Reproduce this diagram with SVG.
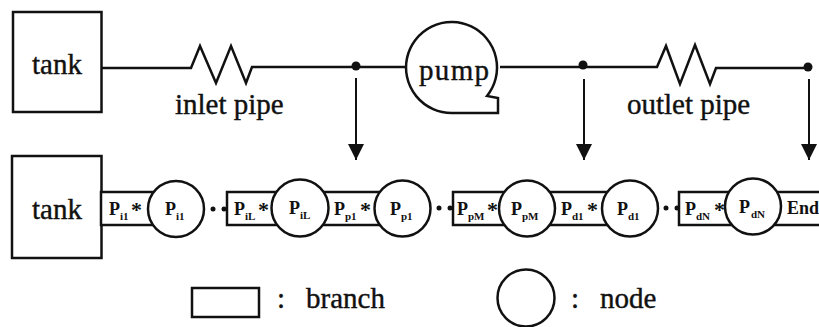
<svg xmlns="http://www.w3.org/2000/svg" width="819" height="327" viewBox="0 0 819 327">
<style>
text{font-family:"Liberation Serif","Times New Roman",serif;fill:#111}
.l{font-size:29px;stroke:#111;stroke-width:.4}
.b{font-size:18px;font-weight:bold}
.s{font-size:11px;font-weight:bold}
.r{font-size:22px;font-weight:bold}
.o{fill:#fff;stroke:#111;stroke-width:2.5}
.w{fill:none;stroke:#111;stroke-width:2.5}
.t{stroke:#111;stroke-width:2;fill:none}
</style>
<defs>
<marker id="a" markerUnits="userSpaceOnUse" markerWidth="16" markerHeight="16" refX="16" refY="8" orient="auto" viewBox="0 0 16 16"><path d="M0 0L16 8L0 16Z" fill="#111"/></marker>
</defs>
<rect width="819" height="327" fill="#fff"/>
<g id="connectors">
<path class="w" d="M101 68H191L200 46L216 83L231 46L246 83L252 67H408"/>
<path class="w" d="M500 67H657L666 46L680 84L695 45L710 84L716 68H808"/>
<g fill="#111"><circle cx="356" cy="66" r="4.500"/><circle cx="583" cy="65" r="4.500"/><circle cx="808" cy="67" r="4.500"/>
<circle cx="213" cy="209" r="2.500"/><circle cx="224" cy="209" r="2.500"/><circle cx="439" cy="208" r="2.500"/><circle cx="450" cy="208" r="2.500"/><circle cx="666" cy="208" r="2.500"/><circle cx="677" cy="208" r="2.500"/></g>
<path class="t" d="M356 78V160" marker-end="url(#a)"/>
<path class="t" d="M584 79V160" marker-end="url(#a)"/>
<path class="t" d="M809 79V160" marker-end="url(#a)"/>
</g>
<g id="tank-top"><rect class="o" x="13" y="12" width="88.500" height="100"/><text class="l" x="32" y="74">tank</text></g>
<g id="inlet-pipe"><text class="l" x="175" y="114">inlet pipe</text></g>
<g id="outlet-pipe"><text class="l" x="627" y="114">outlet pipe</text></g>
<g id="pump"><path class="o" d="M452 113A45.500 45.500 0 1 1 487 96L498 98V113Z"/><text class="l" x="419" y="80" textLength="70">pump</text></g>
<g id="tank-bottom"><rect class="o" x="12" y="156" width="89.500" height="102"/><text class="l" x="32" y="219">tank</text></g>
<g id="branch-i1"><rect class="o" x="101" y="192" width="60" height="33"/><text class="b" x="109" y="215">P</text><text class="s" x="120" y="220">i1</text><text class="r" x="131" y="217">*</text></g>
<g id="branch-iL"><rect class="o" x="227" y="192" width="55" height="33"/><text class="b" x="234" y="215">P</text><text class="s" x="245" y="220">iL</text><text class="r" x="258" y="217">*</text></g>
<g id="branch-p1"><rect class="o" x="320" y="192" width="65" height="33"/><text class="b" x="334" y="215">P</text><text class="s" x="345" y="220">p1</text><text class="r" x="360" y="217">*</text></g>
<g id="branch-pM"><rect class="o" x="453" y="192" width="55" height="33"/><text class="b" x="457" y="215">P</text><text class="s" x="468" y="220">pM</text><text class="r" x="487" y="217">*</text></g>
<g id="branch-d1"><rect class="o" x="545" y="192" width="70" height="33"/><text class="b" x="561" y="215">P</text><text class="s" x="572" y="220">d1</text><text class="r" x="587" y="217">*</text></g>
<g id="branch-dN"><rect class="o" x="679" y="192" width="56" height="33"/><text class="b" x="685" y="215">P</text><text class="s" x="696" y="220">dN</text><text class="r" x="714" y="217">*</text></g>
<g id="branch-end"><rect class="o" x="775" y="192" width="47" height="33"/><text class="b" x="787" y="214">End</text></g>
<g id="node-i1"><circle class="o" cx="176" cy="209" r="28"/><text class="b" x="165" y="215">P</text><text class="s" x="176" y="220">i1</text></g>
<g id="node-iL"><circle class="o" cx="300" cy="208" r="28.500"/><text class="b" x="289" y="214">P</text><text class="s" x="300" y="219">iL</text></g>
<g id="node-p1"><circle class="o" cx="402.500" cy="208.500" r="28"/><text class="b" x="390" y="215">P</text><text class="s" x="401" y="220">p1</text></g>
<g id="node-pM"><circle class="o" cx="527" cy="208.500" r="28"/><text class="b" x="511" y="215">P</text><text class="s" x="522" y="220">pM</text></g>
<g id="node-d1"><circle class="o" cx="630" cy="208.500" r="28"/><text class="b" x="617" y="215">P</text><text class="s" x="628" y="220">d1</text></g>
<g id="node-dN"><circle class="o" cx="753" cy="206.500" r="28"/><text class="b" x="739" y="213">P</text><text class="s" x="751" y="218">dN</text></g>
<g id="legend-branch"><rect class="o" x="192" y="288" width="67" height="29"/><text class="l" x="277" y="308">:</text><text class="l" x="306" y="308">branch</text></g>
<g id="legend-node"><circle class="o" cx="526" cy="298" r="28.500"/><text class="l" x="571" y="308">:</text><text class="l" x="600" y="308">node</text></g>
</svg>
